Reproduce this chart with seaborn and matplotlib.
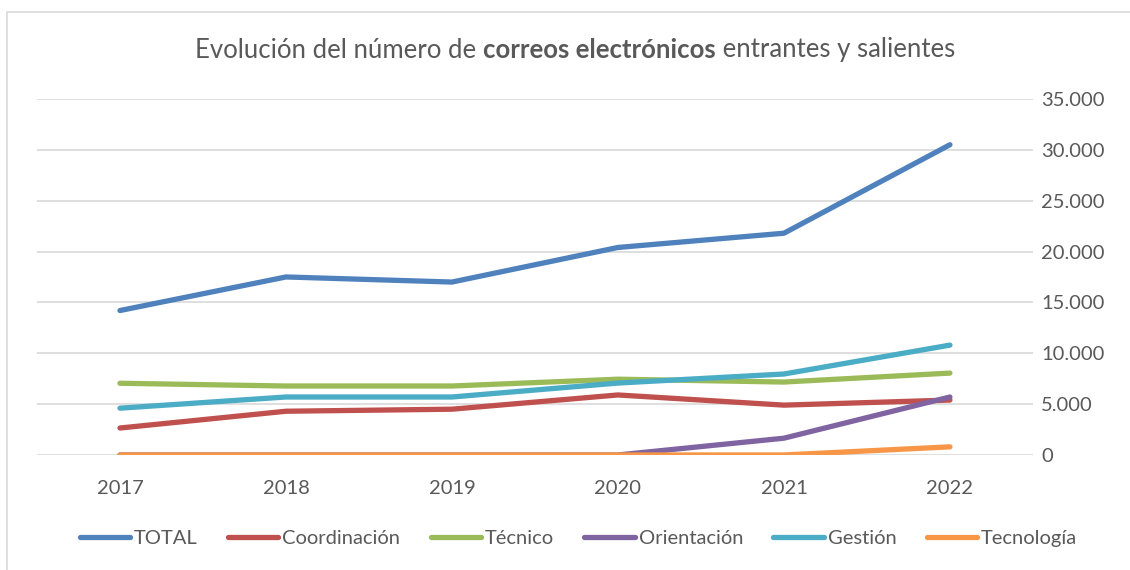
import matplotlib.pyplot as plt
import matplotlib.ticker as mticker
import pandas as pd
import seaborn as sns
from matplotlib.offsetbox import TextArea, HPacker, AnchoredOffsetbox
from matplotlib.patches import Rectangle

# Datos
years = ["2017", "2018", "2019", "2020", "2021", "2022"]
total = [14200, 17500, 17000, 20400, 21800, 30500]
coordinacion = [2650, 4300, 4500, 5900, 4900, 5400]
tecnico = [7050, 6780, 6780, 7450, 7170, 8050]
orientacion = [0, 0, 0, 0, 1650, 5700]
gestion = [4600, 5700, 5700, 7070, 7960, 10800]
tecnologia = [0, 0, 0, 0, 0, 800]

series_names = ["TOTAL", "Coordinación", "Técnico", "Orientación", "Gestión", "Tecnología"]
series_values = [total, coordinacion, tecnico, orientacion, gestion, tecnologia]
colors = ["#4F81BD", "#C0504D", "#9BBB59", "#8064A2", "#4BACC6", "#F79646"]

rows = []
for name, vals in zip(series_names, series_values):
    for i, v in enumerate(vals):
        rows.append({"pos": i, "serie": name, "valor": v})
df = pd.DataFrame(rows)

sns.set_style("white")
plt.rcParams["font.family"] = ["Lato", "DejaVu Sans"]
text_color = "#595959"

fig = plt.figure(figsize=(11.3, 5.7), dpi=100)
ax = fig.add_axes([0.0327, 0.2018, 0.8814, 0.6246])

sns.lineplot(data=df, x="pos", y="valor", hue="serie", hue_order=series_names,
             palette=colors, linewidth=3.8, ax=ax, legend=False,
             solid_capstyle="round", solid_joinstyle="round")

ax.set_xlim(-0.5, 5.5)
ax.set_ylim(0, 35000)
ax.set_xticks(range(len(years)))
ax.set_xticklabels(years)
ax.yaxis.set_major_locator(mticker.MultipleLocator(5000))
ax.yaxis.set_major_formatter(mticker.FuncFormatter(lambda v, p: f"{int(v):,}".replace(",", ".")))
ax.yaxis.tick_right()
ax.tick_params(axis="y", length=0, pad=6, labelsize=14.5, labelcolor=text_color)
ax.tick_params(axis="x", length=0, pad=18, labelsize=14.5, labelcolor=text_color)
for lbl in ax.get_yticklabels():
    lbl.set_horizontalalignment("left")
ax.set_xlabel("")
ax.set_ylabel("")
ax.grid(axis="y", color="#D9D9D9", linewidth=1.2)
ax.grid(axis="x", visible=False)
ax.set_axisbelow(True)
for s in ax.spines.values():
    s.set_visible(False)

# Título con parte en negrita
t1 = TextArea("Evolución del número de ", textprops=dict(fontsize=18.5, color=text_color))
t2 = TextArea("correos electrónicos", textprops=dict(fontsize=18.5, color=text_color, fontweight="bold"))
t3 = TextArea(" entrantes y salientes", textprops=dict(fontsize=18.5, color=text_color))
box = HPacker(children=[t1, t2, t3], align="baseline", pad=0, sep=0)
anchored = AnchoredOffsetbox(loc="center", child=box, pad=0, frameon=False,
                             bbox_to_anchor=(0.509, 1 - 50 / 570), bbox_transform=fig.transFigure,
                             borderpad=0)
fig.add_artist(anchored)

# Leyenda
handles = [plt.Line2D([0], [0], color=c, linewidth=3.8, solid_capstyle="round") for c in colors]
leg = fig.legend(handles, series_names, loc="center", ncol=6, frameon=False,
                 bbox_to_anchor=(0.512, 1 - 538 / 570), fontsize=14.5,
                 handlelength=2.5, handletextpad=0.2, columnspacing=1.5)
for txt in leg.get_texts():
    txt.set_color(text_color)

# Borde del gráfico
fig.add_artist(Rectangle((7 / 1130, -0.1), 1.2, 1 - 12 / 570 + 0.1, transform=fig.transFigure,
                         fill=False, edgecolor="#D9D9D9", linewidth=1.2))

fig.savefig("out.png", dpi=100, facecolor="white")
